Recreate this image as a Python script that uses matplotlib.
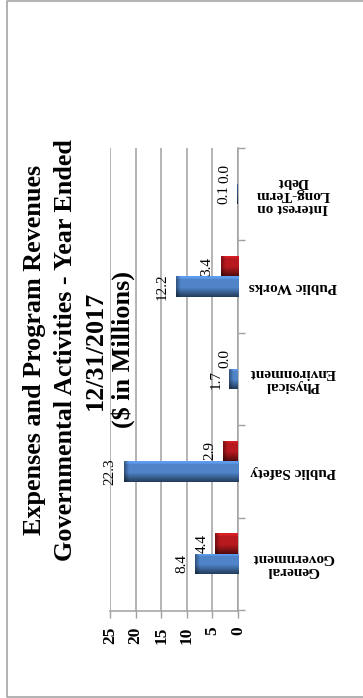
import matplotlib
matplotlib.use("Agg")
import matplotlib.pyplot as plt
import matplotlib.transforms as mtransforms
from matplotlib.lines import Line2D
import numpy as np

# expenses vs program revenues by function, $ millions
categories = ["General\nGovernment", "Public Safety", "Physical\nEnvironment",
              "Public Works", "Interest on\nLong-Term\nDebt"]
expenses = [8.4, 22.3, 1.7, 12.2, 0.1]
revenues = [4.4, 2.9, 0.0, 3.4, 0.0]
value_ticks = [0, 5, 10, 15, 20, 25]

title_lines = ["Expenses and Program Revenues",
               "Governmental Activities - Year Ended",
               "12/31/2017",
               "($ in Millions)"]

W, H = 363, 698
fig = plt.figure(figsize=(W / 100, H / 100), dpi=100)
plt.rcParams['font.family'] = ['Liberation Serif', 'DejaVu Serif']

# outer chart frame: top, left and bottom edges (right edge is off the page)
frame_x = [1.0, 7 / W, 7 / W, 1.0]
frame_y = [1 - 0.5 / H, 1 - 0.5 / H, 1 - 697 / H, 1 - 697 / H]
fig.lines.append(Line2D(frame_x, frame_y, transform=fig.transFigure,
                        color='#a6a6a6', lw=1.2))

ax = fig.add_axes([110 / W, 1 - 611 / H, 128 / W, 463 / H])

bar_h = 0.222
ypos = np.arange(len(categories))
blue = np.array([0.31, 0.52, 0.79])
red = np.array([0.72, 0.10, 0.12])

b_exp = ax.barh(ypos, expenses, height=bar_h, color=blue, zorder=3)
b_rev = ax.barh(ypos + bar_h, revenues, height=bar_h, color=red, zorder=3)


def shade_bar(patch, base):
    # fake the 3D look: light top rim, dark bottom, dark far end
    w = patch.get_width()
    if w <= 0:
        return
    y0 = patch.get_y()
    h = patch.get_height()
    ny, nx = 40, 120
    t = np.linspace(0, 1, ny)
    fv = np.where(t < 0.12, 1.18, np.where(t < 0.55, 1.0, 1.0 - (t - 0.55) / 0.45 * 0.55))
    d = np.linspace(0, 1, nx) * w
    fh = 0.62 + 0.38 * np.clip(d / 0.9, 0, 1)
    img = np.clip(base[None, None, :] * fv[:, None, None] * fh[None, :, None], 0, 1)
    im = ax.imshow(img, extent=(w, 0, y0, y0 + h), origin='upper',
                   aspect='auto', zorder=4, interpolation='bilinear')
    im.set_clip_path(patch)


for p in b_exp:
    shade_bar(p, blue)
for p in b_rev:
    shade_bar(p, red)

# value labels beyond the bar ends
for i, (e, r) in enumerate(zip(expenses, revenues)):
    ax.annotate(f"{e:.1f}", (e, i), xytext=(-7, 0), textcoords='offset pixels',
                rotation=90, ha='right', va='center', fontsize=11, zorder=5)
    ax.annotate(f"{r:.1f}", (r, i + bar_h), xytext=(-7, 0), textcoords='offset pixels',
                rotation=90, ha='right', va='center', fontsize=11, zorder=5)

ax.set_xlim(25, 0)
ax.set_ylim(-0.5 - 0.01, 4.5 - 0.01)
ax.set_xticks(value_ticks)
ax.set_xticklabels([str(v) for v in value_ticks], rotation=90, fontweight='bold',
                   fontsize=12.5)
ax.xaxis.grid(True, color='#a0a0a0', lw=1.1, zorder=0)
ax.set_axisbelow(True)

ax.yaxis.tick_right()
ax.set_yticks(np.arange(-0.5, 5, 1.0))
ax.set_yticklabels([])
ax.tick_params(axis='y', length=5, color='#a0a0a0', width=1)
ax.tick_params(axis='x', length=5, color='#a0a0a0', width=1, pad=6)

for s in ['top', 'left']:
    ax.spines[s].set_visible(False)
for s in ['right', 'bottom']:
    ax.spines[s].set_color('#a0a0a0')
    ax.spines[s].set_linewidth(1.1)

# category names, upside down beside the zero axis
trans = mtransforms.blended_transform_factory(fig.transFigure, ax.transData)
for i, c in enumerate(categories):
    ax.text(293 / W, i, c, transform=trans, rotation=180, ha='center', va='center',
            multialignment='center', fontweight='bold', fontsize=11, linespacing=1.0)

# title, one rotated line at a time (baselines in pixels from the left)
for line, bx in zip(title_lines, [41, 72, 102, 130]):
    fig.text(bx / W, 1 - 350 / H, line, rotation=90, rotation_mode='anchor',
             ha='center', va='baseline', fontweight='bold', fontsize=18.8)

fig.savefig("out.png", dpi=100)
